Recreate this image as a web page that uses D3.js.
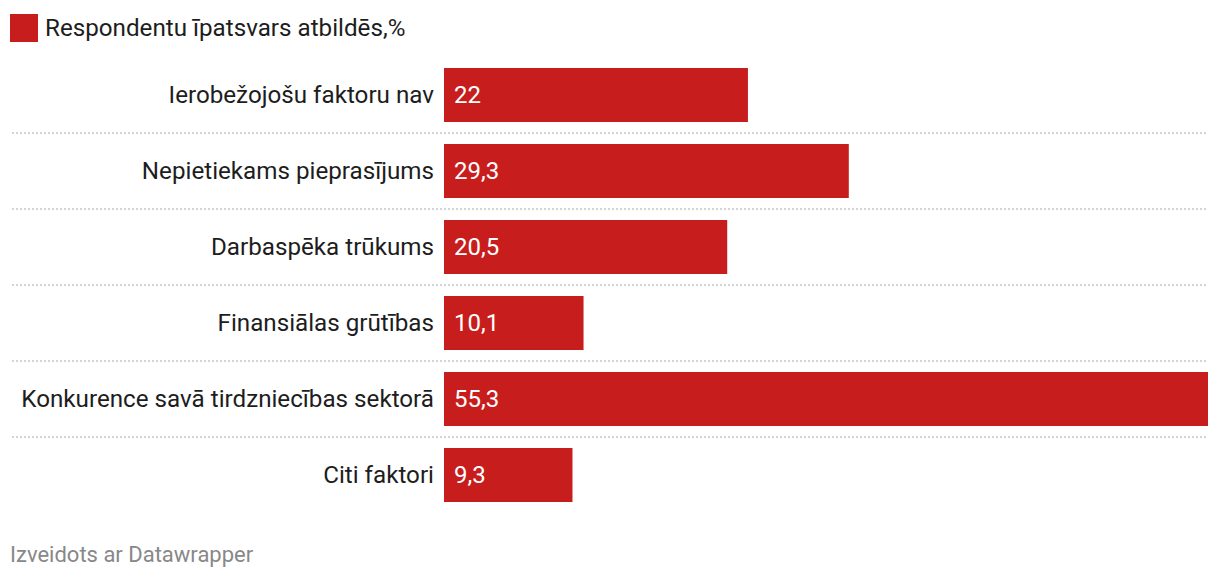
<!DOCTYPE html>
<html>
<head>
<meta charset="utf-8">
<script src="https://cdn.jsdelivr.net/npm/d3@7"></script>
<style>
body{margin:0;background:#fff;}
svg{display:block;font-family:Roboto,sans-serif;}
</style>
</head>
<body>
<svg id="chart" width="1220" height="580"></svg>
<script>
const categories = ["Ierobežojošu faktoru nav","Nepietiekams pieprasījums","Darbaspēka trūkums","Finansiālas grūtības","Konkurence savā tirdzniecības sektorā","Citi faktori"];
const values = [22, 29.3, 20.5, 10.1, 55.3, 9.3];
const valueLabels = ["22","29,3","20,5","10,1","55,3","9,3"];
const legendLabel = "Respondentu īpatsvars atbildēs,%";
const footer = "Izveidots ar Datawrapper";

const color = "#c71e1d";
const svg = d3.select("#chart");
const x = d3.scaleLinear().domain([0, d3.max(values)]).range([444, 1208]);
const y = d3.scaleBand().domain(categories).range([68 - 11, 68 - 11 + 76*6]).paddingInner(22/76).paddingOuter(11/76);

// legend
svg.append("rect").attr("x",10).attr("y",14).attr("width",28).attr("height",28).attr("fill",color);
svg.append("text").attr("x",45).attr("y",28).attr("dy","0.35em").attr("font-size",24.2).attr("fill","#1d1d1d").text(legendLabel);

// separators
svg.selectAll("line.sep").data(categories.slice(0,-1)).join("line")
  .attr("class","sep")
  .attr("x1",12).attr("x2",1208)
  .attr("y1",d=>y(d)+y.bandwidth()+11).attr("y2",d=>y(d)+y.bandwidth()+11)
  .attr("stroke","#d4d4d4").attr("stroke-width",2).attr("stroke-dasharray","2,2");

// bars
svg.selectAll("rect.bar").data(categories).join("rect")
  .attr("class","bar")
  .attr("x",x(0)).attr("y",d=>y(d))
  .attr("width",(d,i)=>x(values[i])-x(0)).attr("height",y.bandwidth())
  .attr("fill",color);

// category labels
svg.selectAll("text.cat").data(categories).join("text")
  .attr("class","cat")
  .attr("x",434).attr("y",d=>y(d)+y.bandwidth()/2).attr("dy","0.35em")
  .attr("text-anchor","end").attr("font-size",24.2).attr("fill","#1d1d1d")
  .text(d=>d);

// value labels
svg.selectAll("text.val").data(categories).join("text")
  .attr("class","val")
  .attr("x",x(0)+10).attr("y",d=>y(d)+y.bandwidth()/2).attr("dy","0.35em")
  .attr("font-size",24).attr("fill","#fff")
  .text((d,i)=>valueLabels[i]);

svg.append("text").attr("x",10).attr("y",562).attr("font-size",22).attr("fill","#888").text(footer);
</script>
</body>
</html>
